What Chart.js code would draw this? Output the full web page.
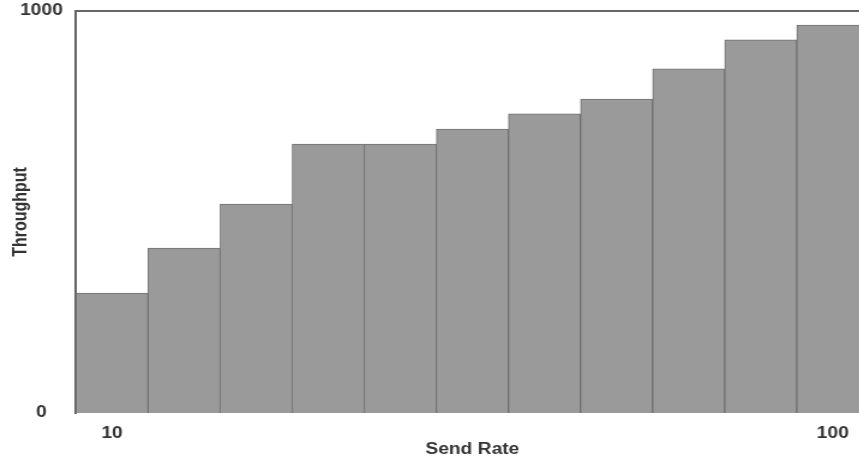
<!DOCTYPE html>
<html>
<head>
<meta charset="utf-8">
<script src="https://cdn.jsdelivr.net/npm/chart.js@4"></script>
<style>
  html, body { margin: 0; padding: 0; background: #fff; overflow: hidden; }
  /* the reference looks squeezed sideways, so the chart is drawn narrow and stretched */
  #wrap { width: 724px; height: 459px; transform: scaleX(1.2); transform-origin: 0 0; }
</style>
</head>
<body>
<div id="wrap"><canvas id="throughput-bar-chart"></canvas></div>
<script>
const tickLabels = ["10","","","","","","","","","","100"]
const throughput = [298,410,520,669,669,706,744,781,856,928,965]
const yTickValues = [0,1000]

const textColor = "#333"
const fontFam = "'Liberation Sans', Arial, sans-serif"

// top line of the frame
const framePlugin = {
    id: "frameTop",
    afterDraw(chart) {
        const ctx = chart.ctx
        const a = chart.chartArea
        ctx.save()
        ctx.strokeStyle = "#666"
        ctx.lineWidth = 2
        ctx.beginPath()
        ctx.moveTo(a.left, a.top)
        ctx.lineTo(a.right, a.top)
        ctx.stroke()
        ctx.restore()
    }
}

const dataObj = {
    labels: tickLabels,
    datasets: [
        {
            label: "Throughput",
            data: throughput,
            backgroundColor: "#9a9a9a",
            borderColor: "#707070",
            borderWidth: 1,
            barPercentage: 1,
            categoryPercentage: 1
        }
    ]
}

new Chart("throughput-bar-chart", {
    type: "bar",
    data: dataObj,
    plugins: [framePlugin],
    options: {
        responsive: true,
        maintainAspectRatio: false,
        animation: false,
        layout: { padding: { top: 11, left: 0, right: 0, bottom: 0 } },
        plugins: {
            legend: { display: false },
            tooltip: { enabled: false }
        },
        scales: {
            x: {
                grid: { display: false, drawTicks: false },
                border: { display: false },
                ticks: {
                    autoSkip: false,
                    maxRotation: 0,
                    padding: 11,
                    color: textColor,
                    font: { family: fontFam, size: 16, weight: "bold" }
                },
                title: {
                    display: true,
                    text: "Send Rate",
                    color: textColor,
                    padding: { top: 0, bottom: 0 },
                    font: { family: fontFam, size: 16, weight: "bold" }
                },
                afterFit(scale) { scale.height = 46 }
            },
            y: {
                min: 0,
                max: 1000,
                afterBuildTicks(scale) { scale.ticks = yTickValues.map(v => ({ value: v })) },
                grid: { display: false, drawTicks: false },
                border: { display: true, color: "#666", width: 2 },
                ticks: {
                    crossAlign: "center",
                    padding: 11,
                    color: textColor,
                    callback: v => String(v),
                    font: { family: fontFam, size: 16, weight: "bold" }
                },
                title: {
                    display: true,
                    text: "Throughput",
                    color: textColor,
                    padding: { top: 8, bottom: 0 },
                    font: { family: fontFam, size: 16, weight: "bold" }
                },
                afterFit(scale) {
                    scale.width = 63.3
                    scale.paddingTop = 0
                    scale.paddingBottom = 0
                }
            }
        }
    }
});
</script>
</body>
</html>
